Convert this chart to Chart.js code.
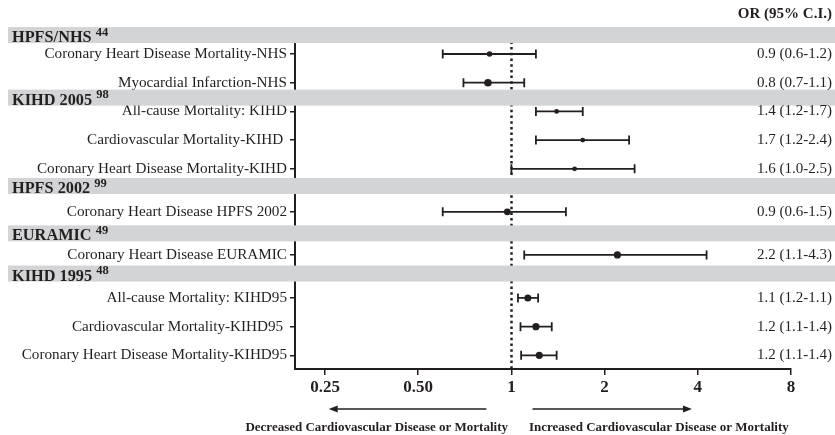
<!DOCTYPE html>
<html>
<head>
<meta charset="utf-8">
<script src="https://cdn.jsdelivr.net/npm/chart.js@4.4.1/dist/chart.umd.min.js"></script>
<style>
  body { margin: 0; background: #fff; }
  #wrap { width: 835px; height: 435px; position: relative; }
</style>
</head>
<body>
<div id="wrap"><canvas id="forest"></canvas></div>
<script>
// study rows (top to bottom)
const rowLabels = [
  'Coronary Heart Disease Mortality-NHS',
  'Myocardial Infarction-NHS',
  'All-cause Mortality: KIHD',
  'Cardiovascular Mortality-KIHD ',
  'Coronary Heart Disease Mortality-KIHD',
  'Coronary Heart Disease HPFS 2002',
  'Coronary Heart Disease EURAMIC',
  'All-cause Mortality: KIHD95',
  'Cardiovascular Mortality-KIHD95 ',
  'Coronary Heart Disease Mortality-KIHD95'
];
const rowPos = [0, 1, 2, 3, 4, 5.5, 7, 8.5, 9.5, 10.5];
const estimate = [0.85, 0.84, 1.40, 1.70, 1.60, 0.97, 2.20, 1.13, 1.20, 1.23];
const lower = [0.60, 0.70, 1.20, 1.20, 1.00, 0.60, 1.10, 1.05, 1.07, 1.075];
const upper = [1.20, 1.10, 1.70, 2.40, 2.50, 1.50, 4.27, 1.22, 1.35, 1.40];
const orText = [
  '0.9 (0.6-1.2)', '0.8 (0.7-1.1)', '1.4 (1.2-1.7)', '1.7 (1.2-2.4)', '1.6 (1.0-2.5)',
  '0.9 (0.6-1.5)', '2.2 (1.1-4.3)', '1.1 (1.2-1.1)', '1.2 (1.1-1.4)', '1.2 (1.1-1.4)'
];
const markerSize = [2.8, 3.8, 2.4, 2.4, 2.4, 3.4, 3.6, 3.5, 3.6, 3.6];

// study group headers
const groupNames = ['HPFS/NHS', 'KIHD 2005', 'HPFS 2002', 'EURAMIC', 'KIHD 1995'];
const groupRefs = ['44', '98', '99', '49', '48'];
const groupPos = [-0.66, 1.52, 4.6, 6.25, 7.65];

// x axis (odds ratio, log scale)
const xTicks = [0.25, 0.5, 1, 2, 4, 8];
const xTickLabels = ['0.25', '0.50', '1', '2', '4', '8'];

const SERIF = '"Liberation Serif", "Times New Roman", serif';
const INK = '#231f20';

const forestPlugin = {
  id: 'forest',
  beforeDatasetsDraw(chart) {
    const { ctx, chartArea } = chart;
    const xs = chart.scales.x, ys = chart.scales.y;
    ctx.save();
    // null line at OR = 1
    const x1 = Math.round(xs.getPixelForValue(1)) + 0.5;
    ctx.strokeStyle = INK;
    ctx.lineWidth = 2.5;
    ctx.setLineDash([2.5, 3.2]);
    ctx.beginPath();
    ctx.moveTo(x1, chartArea.top);
    ctx.lineTo(x1, chartArea.bottom);
    ctx.stroke();
    ctx.setLineDash([]);

    // confidence intervals
    ctx.lineWidth = 1.8;
    rowPos.forEach((r, i) => {
      const y = ys.getPixelForValue(r);
      const xl = xs.getPixelForValue(lower[i]);
      const xh = xs.getPixelForValue(upper[i]);
      ctx.beginPath();
      ctx.moveTo(xl, y); ctx.lineTo(xh, y);
      ctx.moveTo(xl, y - 4.5); ctx.lineTo(xl, y + 4.5);
      ctx.moveTo(xh, y - 4.5); ctx.lineTo(xh, y + 4.5);
      ctx.stroke();
    });
    ctx.restore();
  },
  afterDatasetsDraw(chart) {
    const { ctx, width } = chart;
    const xs = chart.scales.x, ys = chart.scales.y;
    ctx.save();

    // grey group bands with headers
    groupPos.forEach((g, i) => {
      const yc = ys.getPixelForValue(g);
      ctx.fillStyle = '#d3d4d6';
      ctx.fillRect(8, yc - 8, width - 8, 16);
      ctx.fillStyle = INK;
      ctx.textBaseline = 'alphabetic';
      ctx.textAlign = 'left';
      ctx.font = 'bold 16.3px ' + SERIF;
      ctx.fillText(groupNames[i], 12, yc + 7);
      const w = ctx.measureText(groupNames[i] + ' ').width;
      ctx.font = 'bold 12.5px ' + SERIF;
      ctx.fillText(groupRefs[i], 12 + w, yc + 0.5);
    });

    // OR column
    ctx.fillStyle = INK;
    ctx.textAlign = 'right';
    ctx.textBaseline = 'middle';
    ctx.font = 'bold 15px ' + SERIF;
    ctx.fillText('OR (95% C.I.)', 832, 14);
    ctx.font = '15px ' + SERIF;
    rowPos.forEach((r, i) => {
      ctx.fillText(orText[i], 832, ys.getPixelForValue(r));
    });

    // direction arrows
    const ay = 409;
    const arrow = (from, to) => {
      const a = xs.getPixelForValue(from), b = xs.getPixelForValue(to);
      const dir = Math.sign(b - a);
      ctx.strokeStyle = INK;
      ctx.lineWidth = 1.6;
      ctx.beginPath();
      ctx.moveTo(a, ay); ctx.lineTo(b - dir * 6, ay);
      ctx.stroke();
      ctx.beginPath();
      ctx.moveTo(b, ay);
      ctx.lineTo(b - dir * 9, ay - 3.5);
      ctx.lineTo(b - dir * 9, ay + 3.5);
      ctx.closePath();
      ctx.fill();
    };
    arrow(0.83, 0.257);
    arrow(1.17, 3.83);

    ctx.font = 'bold 13px ' + SERIF;
    ctx.textBaseline = 'middle';
    ctx.textAlign = 'right';
    ctx.fillText('Decreased Cardiovascular Disease or Mortality', 508, 428);
    ctx.textAlign = 'left';
    ctx.fillText('Increased Cardiovascular Disease or Mortality', 529, 428);
    ctx.restore();
  }
};

new Chart(document.getElementById('forest'), {
  type: 'scatter',
  data: {
    datasets: [{
      data: rowPos.map((r, i) => ({ x: estimate[i], y: r })),
      pointRadius: markerSize,
      pointBackgroundColor: INK,
      pointBorderColor: INK,
      pointBorderWidth: 0
    }]
  },
  options: {
    responsive: true,
    maintainAspectRatio: false,
    animation: false,
    layout: { padding: { left: 0, right: 44, top: 30, bottom: 0 } },
    plugins: { legend: { display: false }, tooltip: { enabled: false } },
    scales: {
      x: {
        type: 'logarithmic',
        min: 0.2,
        max: 8,
        afterBuildTicks(scale) { scale.ticks = xTicks.map(v => ({ value: v })); },
        afterFit(scale) { scale.height = 66; },
        border: { display: true, color: INK, width: 2 },
        grid: { drawOnChartArea: false, drawTicks: true, tickLength: 6, color: INK, lineWidth: 1.5 },
        ticks: {
          autoSkip: false,
          maxRotation: 0,
          padding: 2,
          color: INK,
          font: { family: SERIF, size: 17, weight: 'bold' },
          callback: (v, i) => xTickLabels[i]
        }
      },
      y: {
        type: 'linear',
        reverse: true,
        min: -0.836,
        max: 10.976,
        afterBuildTicks(scale) { scale.ticks = rowPos.map(v => ({ value: v })); },
        afterFit(scale) { scale.width = 295; },
        border: { display: true, color: INK, width: 2 },
        grid: { drawOnChartArea: false, drawTicks: true, tickLength: 5, color: INK, lineWidth: 1.5 },
        ticks: {
          autoSkip: false,
          padding: 3,
          color: INK,
          font: { family: SERIF, size: 15.2 },
          callback: (v, i) => rowLabels[i]
        }
      }
    }
  },
  plugins: [forestPlugin]
});
</script>
</body>
</html>
